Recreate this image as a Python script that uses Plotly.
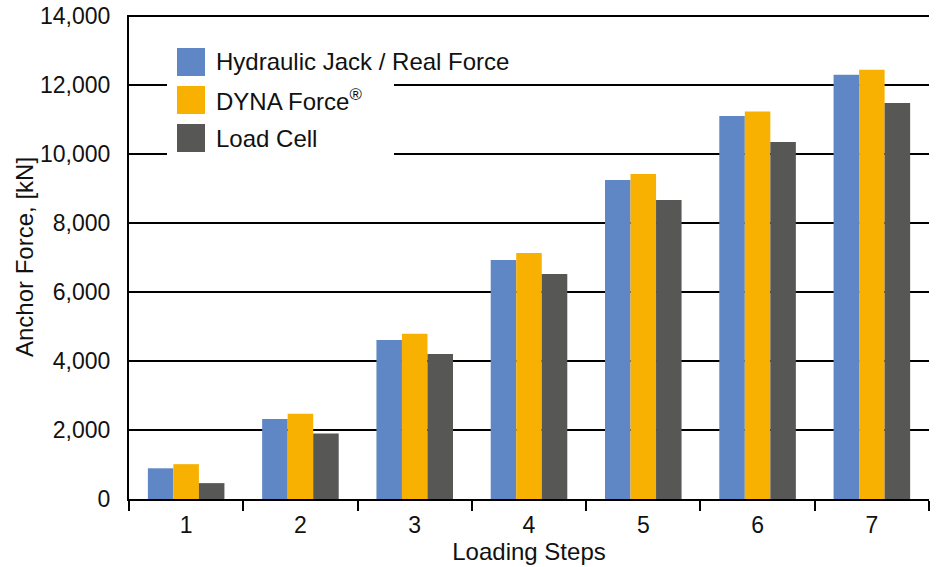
import plotly.graph_objects as go

steps = ["1", "2", "3", "4", "5", "6", "7"]
hydraulic_jack = [890, 2320, 4610, 6930, 9250, 11100, 12300]
dyna_force = [1010, 2470, 4790, 7130, 9420, 11230, 12440]
load_cell = [460, 1900, 4200, 6520, 8670, 10350, 11480]

series_names = ["Hydraulic Jack / Real Force", "DYNA Force<sup>®</sup>", "Load Cell"]
series_colors = ["#5F87C6", "#F8B100", "#575756"]
y_ticks = [0, 2000, 4000, 6000, 8000, 10000, 12000, 14000]

W, H = 937, 567
ML, MR, MT, MB = 129, 8, 15, 68
PW, PH = W - ML - MR, H - MT - MB

def px(x):
    return (x - ML) / PW

def py(y):
    return (H - MB - y) / PH

FONT = "Liberation Sans, Arial, Helvetica, sans-serif"

fig = go.Figure()
for name, vals, col in zip(series_names, [hydraulic_jack, dyna_force, load_cell], series_colors):
    fig.add_trace(go.Bar(x=steps, y=vals, name=name, marker=dict(color=col, line=dict(width=0)),
                         showlegend=False))

shapes = []
annotations = []
# legend background (covers gridlines)
shapes.append(dict(type="rect", xref="paper", yref="paper", x0=px(167), x1=px(394), y0=py(168), y1=py(32),
                   fillcolor="white", line=dict(width=0), layer="above"))
row_centers = [62, 100, 138]
for name, col, yc in zip(series_names, series_colors, row_centers):
    shapes.append(dict(type="rect", xref="paper", yref="paper", x0=px(177), x1=px(205),
                       y0=py(yc + 14), y1=py(yc - 14), fillcolor=col, line=dict(width=0), layer="above"))
    annotations.append(dict(text=name, xref="paper", yref="paper", x=px(214), y=py(yc),
                            xanchor="left", yanchor="middle", showarrow=False,
                            font=dict(family=FONT, size=24, color="#111111")))

fig.update_layout(
    width=W, height=H,
    margin=dict(l=ML, r=MR, t=MT, b=MB, autoexpand=False),
    paper_bgcolor="white", plot_bgcolor="white",
    barmode="group", bargap=0.33, bargroupgap=0,
    font=dict(family=FONT, size=23, color="#111111"),
    shapes=shapes, annotations=annotations,
    xaxis=dict(type="category", automargin=False, showline=True, linecolor="black", linewidth=2,
               ticks="outside", tickson="boundaries", ticklen=10, tickwidth=1.5, tickcolor="black",
               showgrid=False, tickfont=dict(size=23), ticklabelstandoff=4,
               title=dict(text="Loading Steps", font=dict(size=24), standoff=0)),
    yaxis=dict(range=[0, 14030], tickvals=y_ticks, tickformat=",d", automargin=False,
               showline=True, linecolor="black", linewidth=2,
               showgrid=True, gridcolor="black", gridwidth=1.5, zeroline=False,
               ticks="", ticklabelstandoff=12, tickfont=dict(size=23),
               title=dict(text="Anchor Force, [kN]", font=dict(size=24), standoff=0)),
)

fig.write_html("out.html", config={"displayModeBar": False},
               post_script="document.body.style.margin='0px';")
